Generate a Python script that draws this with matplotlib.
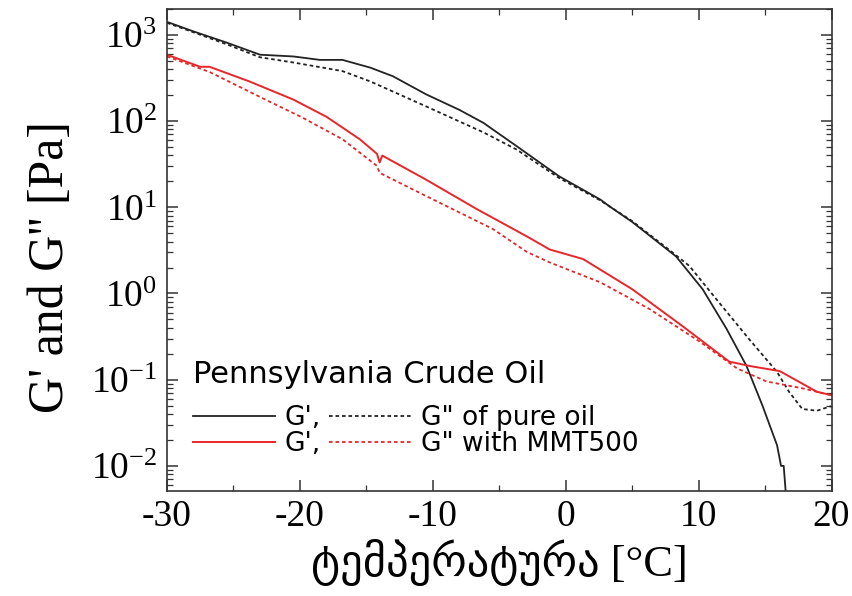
import matplotlib
matplotlib.use('Agg')
import matplotlib.pyplot as plt
from matplotlib.ticker import LogLocator, MultipleLocator, NullFormatter

plt.rcParams['font.family'] = ['Liberation Serif', 'DejaVu Serif']
plt.rcParams['mathtext.fontset'] = 'custom'
plt.rcParams['mathtext.rm'] = 'Liberation Serif'
plt.rcParams['axes.unicode_minus'] = False

# temperature [C] and log10 modulus values
t_gp_oil = [-30, -29.8, -28, -25.5, -23, -20.5, -18.5, -16.8, -14.7, -13, -10.5, -8, -6.2,
            -3.7, -0.5, 2.6, 3.3, 5.0, 8.3, 10.3, 12.1, 13.6, 14.8, 15.9, 16.2, 16.4, 16.6]
lg_gp_oil = [3.15, 3.14, 3.04, 2.91, 2.77, 2.75, 2.71, 2.71, 2.62, 2.52, 2.31, 2.13, 1.98,
             1.71, 1.36, 1.09, 1.01, 0.83, 0.43, 0.05, -0.41, -0.84, -1.30, -1.76, -2.0, -2.0, -2.4]

t_gpp_oil = [-30, -28, -25.5, -23, -20.5, -16.8, -14.7, -10.5, -6.2, -3.7, -0.5, 2.6, 5.0,
             8.0, 9.3, 11.3, 13.8, 15.9, 16.8, 17.8, 18.9, 19.9, 20]
lg_gpp_oil = [3.14, 3.03, 2.89, 2.74, 2.68, 2.58, 2.46, 2.17, 1.87, 1.67, 1.34, 1.08, 0.84,
              0.48, 0.32, -0.06, -0.53, -0.91, -1.14, -1.34, -1.36, -1.31, -1.31]

t_gp_mmt = [-30, -27.5, -26.8, -23.8, -20.5, -18, -15.5, -14.2, -14, -13.8, -10.5, -6.7,
            -2.9, -1.2, 1.3, 5.0, 8.8, 12.3, 13.8, 16.1, 18.9, 20]
lg_gp_mmt = [2.77, 2.63, 2.63, 2.46, 2.25, 2.05, 1.79, 1.62, 1.52, 1.60, 1.32, 0.98,
             0.66, 0.51, 0.40, 0.05, -0.38, -0.79, -0.84, -0.90, -1.14, -1.18]

t_gpp_mmt = [-30, -26.8, -23, -19.8, -16.8, -14.2, -14, -10.5, -5.5, -2.9, -1.2, 2.6, 6.3,
             10.1, 12.9, 15.1, 17.8, 20]
lg_gpp_mmt = [2.75, 2.57, 2.28, 2.04, 1.79, 1.48, 1.40, 1.13, 0.75, 0.48, 0.36, 0.13, -0.18,
              -0.56, -0.87, -1.02, -1.10, -1.18]

red = '#e8262a'
dots = (0, (2, 1.6))

fig = plt.figure(figsize=(8.52, 5.96), dpi=100)
ax = fig.add_axes([0.196, 0.176, 0.780, 0.809])

l1, = ax.plot(t_gp_oil, [10 ** v for v in lg_gp_oil], color='#222222', lw=1.3)
l2, = ax.plot(t_gpp_oil, [10 ** v for v in lg_gpp_oil], color='#222222', lw=1.3, ls=dots)
l3, = ax.plot(t_gp_mmt, [10 ** v for v in lg_gp_mmt], color=red, lw=1.4)
l4, = ax.plot(t_gpp_mmt, [10 ** v for v in lg_gpp_mmt], color=red, lw=1.3, ls=dots)

ax.set_yscale('log')
ax.set_xlim(-30, 20)
ax.set_ylim(5.1e-3, 2000)
ax.xaxis.set_major_locator(MultipleLocator(10))
ax.xaxis.set_minor_locator(MultipleLocator(5))
ax.yaxis.set_major_locator(LogLocator(base=10, numticks=10))
ax.yaxis.set_minor_locator(LogLocator(base=10, subs=range(2, 10), numticks=20))
ax.yaxis.set_minor_formatter(NullFormatter())
ax.tick_params(which='both', direction='in', top=True, right=True, color='#333333')
ax.tick_params(which='major', length=8, width=1.1, labelsize=27)
ax.tick_params(axis='x', which='major', pad=6)
ax.tick_params(axis='y', which='major', pad=7)
ax.tick_params(which='minor', length=4, width=0.9)
for s in ax.spines.values():
    s.set_color('#333333')
    s.set_linewidth(1.2)

ax.set_ylabel("G' and G'' [Pa]", fontsize=36)
ax.yaxis.set_label_coords(-0.14, 0.465)
ax.set_xlabel('ტემპერატურა [°C]', fontsize=32, labelpad=4,
              family=['Liberation Serif', 'DejaVu Sans'])

leg = ax.legend([l1, l3, l2, l4], ["G',", "G',", 'G" of pure oil', 'G" with MMT500'],
                ncol=2, loc='lower left', bbox_to_anchor=(0.039, 0.07), frameon=False,
                title='Pennsylvania Crude Oil', handlelength=3.1, handletextpad=0.38,
                columnspacing=0.3, labelspacing=0.0, borderpad=0, borderaxespad=0,
                prop={'family': 'DejaVu Sans', 'size': 19})
leg.get_title().set_fontfamily('DejaVu Sans')
leg.get_title().set_fontsize(22)
leg._legend_box.align = 'left'
leg._legend_box.sep = 12

fig.savefig('out.png', dpi=100)
